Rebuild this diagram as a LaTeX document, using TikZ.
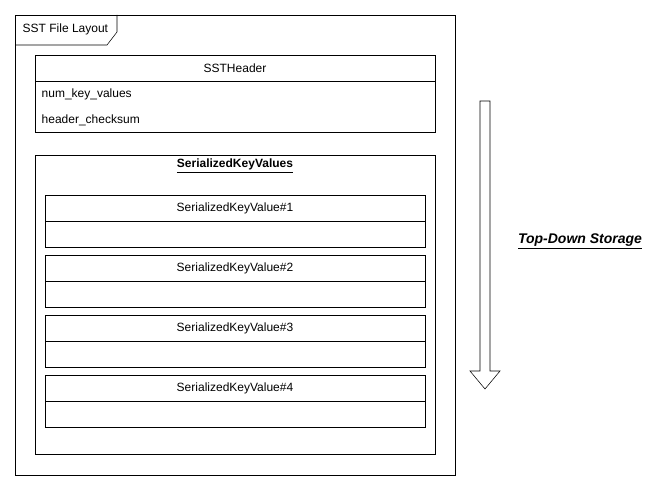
\documentclass[tikz,border=0pt]{standalone}
\usepackage{fontspec}
\setmainfont{Liberation Sans}

\begin{document}
\begin{tikzpicture}[x=0.75pt,y=-0.75pt,font=\fontsize{9}{11}\selectfont]
			\useasboundingbox (0,0) rectangle (671,491);
			% Rahmen
			\draw (15,15) rectangle (455,475);
			% Reiter
			\draw (15,45) -- (107,45) -- (117,32) -- (117,15);
			\node[anchor=west] (layout) at (18,29) {SST File Layout};
			% SSTHeader
			\draw (35,55) rectangle (435,132);
			\draw (35,81) -- (435,81);
			\node (header) at (235,68) {SSTHeader};
			\node[anchor=west] (numkv) at (37,94) {num\_key\_values};
			\node[anchor=west] (checksum) at (37,120) {header\_checksum};
			% SerializedKeyValues
			\draw (35,155) rectangle (435,454);
			\node (values) at (235,166) {\underline{\textbf{SerializedKeyValues}}};
			% Eintraege
			\draw (45,195) rectangle (425,247);
			\draw (45,221) -- (425,221);
			\node (kv1) at (235,208) {SerializedKeyValue\#1};
			\draw (45,255) rectangle (425,307);
			\draw (45,281) -- (425,281);
			\node (kv2) at (235,268) {SerializedKeyValue\#2};
			\draw (45,315) rectangle (425,367);
			\draw (45,341) -- (425,341);
			\node (kv3) at (235,328) {SerializedKeyValue\#3};
			\draw (45,375) rectangle (425,427);
			\draw (45,401) -- (425,401);
			\node (kv4) at (235,388) {SerializedKeyValue\#4};
			% Pfeil
			\draw (480,101) -- (490,101) -- (490,371) -- (500,371) -- (485,389) -- (470,371) -- (480,371) -- cycle;
			\node[font=\fontsize{10.5}{12}\selectfont] (storage) at (580,241) {\underline{\textbf{\textit{Top-Down Storage}}}};
			
\end{tikzpicture}
\end{document}
